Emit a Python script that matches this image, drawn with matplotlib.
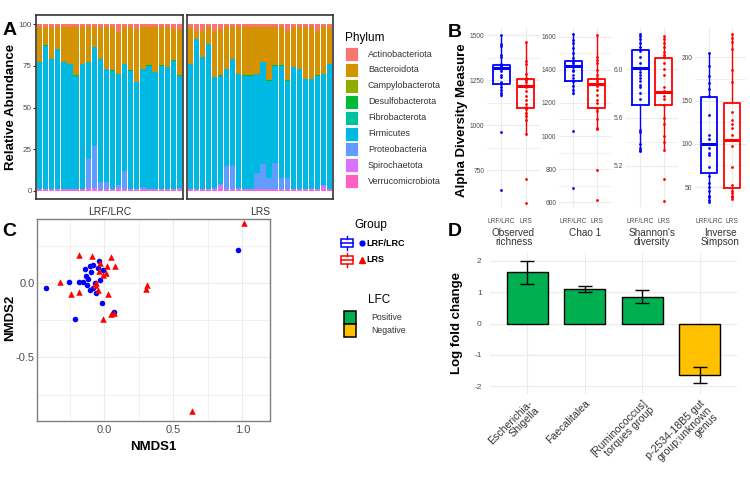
import numpy as np
import matplotlib
matplotlib.use("Agg")
import matplotlib.pyplot as plt
from matplotlib.patches import Rectangle

plt.rcParams["font.family"] = ["Liberation Sans", "DejaVu Sans"]

W, H = 750, 478

# ---------------- Panel A data (relative abundance, %) ----------------
PHYLA = ["Actinobacteriota", "Bacteroidota", "Campylobacterota", "Desulfobacterota",
         "Fibrobacterota", "Firmicutes", "Proteobacteria", "Spirochaetota",
         "Verrucomicrobiota"]
PHYLA_COLORS = ["#F8766D", "#D39200", "#93AA00", "#00BA38", "#00C19F",
                "#00B9E3", "#619CFF", "#DB72FB", "#FF61C3"]

# LRF/LRC (24 samples)
actino_L = [1.5, 1.5, 1.5, 1.5, 1.5, 1.5, 1.5, 1.5, 1.5, 1.5, 1.5, 1.5,
            1.5, 5.0, 1.5, 1.5, 3.0, 1.5, 1.5, 1.5, 1.5, 1.5, 3.0, 3.0]
bact_L = [21.2, 11.2, 19.2, 13.2, 21.2, 22.2, 29.2, 22.2, 21.2, 12.2, 19.2, 25.2,
          26.2, 24.7, 22.2, 26.2, 31.7, 25.2, 23.2, 27.2, 23.2, 24.2, 18.7, 27.7]
firm_L = [75.6, 85.6, 77.6, 83.6, 75.6, 74.6, 67.6, 74.6, 58.1, 59.1, 73.6, 67.6,
          70.6, 66.6, 64.1, 70.6, 63.6, 70.6, 73.6, 69.6, 73.6, 72.6, 76.6, 67.1]
proteo_L = [0.5, 0.5, 0.5, 0.5, 0.5, 0.5, 0.5, 0.5, 17.0, 25.0, 4.5, 4.5,
            0.5, 1.5, 11.0, 0.5, 0.5, 1.5, 0.5, 0.5, 0.5, 0.5, 0.5, 1.0]
spiro_L = [0.5, 0.5, 0.5, 0.5, 0.5, 0.5, 0.5, 0.5, 1.5, 1.5, 0.5, 0.5,
           0.5, 1.5, 0.5, 0.5, 0.5, 0.5, 0.5, 0.5, 0.5, 0.5, 0.5, 0.5]

# LRS (24 samples)
actino_R = [1.5, 4.0, 4.0, 1.5, 4.0, 3.0, 1.5, 2.0, 1.5, 1.5, 1.5, 1.5,
            1.5, 1.5, 1.5, 1.5, 4.0, 1.5, 1.5, 1.5, 1.5, 4.0, 1.5, 1.5]
bact_R = [22.2, 4.7, 15.7, 10.2, 27.7, 27.7, 25.2, 18.7, 28.2, 29.2, 29.2, 28.2,
          21.2, 32.2, 23.2, 23.2, 29.7, 24.2, 25.2, 31.2, 31.2, 26.7, 28.2, 22.2]
firm_R = [74.6, 89.8, 78.8, 86.6, 66.1, 64.6, 58.1, 64.1, 68.1, 67.6, 67.6, 59.1,
          61.1, 58.1, 58.1, 67.1, 58.1, 72.6, 71.6, 65.6, 65.1, 67.6, 66.6, 74.6]
proteo_R = [0.5, 0.3, 0.3, 0.5, 1.0, 1.0, 14.0, 14.0, 1.0, 0.5, 0.5, 10.0,
            15.0, 7.0, 16.0, 7.0, 7.0, 0.5, 0.5, 0.5, 0.5, 0.5, 0.5, 0.5]
spiro_R = [0.5, 0.5, 0.5, 0.5, 0.5, 3.0, 0.5, 0.5, 0.5, 0.5, 0.5, 0.5,
           0.5, 0.5, 0.5, 0.5, 0.5, 0.5, 0.5, 0.5, 1.0, 0.5, 2.5, 0.5]
minor_share = 0.1   # Campylo-, Desulfo-, Fibrobacterota, each sample
verru_share = 0.4

# ---------------- Panel B data (alpha diversity) ----------------
B_TITLES = ["Observed\nrichness", "Chao 1", "Shannon's\ndiversity", "Inverse\nSimpson"]
B_YLIM = [(545, 1540), (572, 1652), (4.86, 6.34), (27, 234)]
B_TICKS = [[750, 1000, 1250, 1500], [600, 800, 1000, 1200, 1400, 1600],
           [5.2, 5.6, 6.0], [50, 100, 150, 200]]
B_TICKLABELS = [["750", "1000", "1250", "1500"],
                ["600", "800", "1000", "1200", "1400", "1600"],
                ["5.2", "5.6", "6.0"], ["50", "100", "150", "200"]]
# box stats: (whislo, q1, med, q3, whishi) for LRF/LRC and LRS
box_obs = [(1163, 1230, 1315, 1332, 1500), (950, 1098, 1215, 1258, 1460)]
box_chao = [(1256, 1330, 1420, 1454, 1615), (1040, 1170, 1316, 1346, 1610)]
box_shan = [(5.32, 5.70, 6.01, 6.16, 6.29), (5.33, 5.70, 5.81, 6.09, 6.27)]
box_invs = [(33, 66, 100, 154, 205), (36, 49, 104, 147, 227)]

obs_LRF = [1500, 1450, 1440, 1390, 1380, 1340, 1335, 1330, 1325, 1322, 1318, 1315,
           1310, 1300, 1280, 1270, 1240, 1230, 1210, 1195, 1180, 1165, 960, 640]
obs_LRS = [1460, 1355, 1340, 1285, 1260, 1255, 1250, 1240, 1225, 1215, 1210, 1190,
           1160, 1140, 1120, 1100, 1090, 1070, 1050, 1030, 950, 700, 565]
chao_LRF = [1615, 1580, 1560, 1530, 1500, 1470, 1455, 1450, 1440, 1430, 1420, 1415,
            1400, 1390, 1370, 1350, 1335, 1330, 1300, 1280, 1260, 1030, 686]
chao_LRS = [1610, 1480, 1460, 1440, 1400, 1370, 1350, 1345, 1330, 1320, 1316, 1300,
            1280, 1250, 1220, 1200, 1170, 1150, 1100, 1050, 1040, 796, 614]
shan_LRF = [6.29, 6.27, 6.25, 6.22, 6.18, 6.15, 6.10, 6.05, 6.00, 5.98, 5.95, 5.93,
            5.90, 5.87, 5.85, 5.80, 5.75, 5.50, 5.48, 5.38, 5.35, 5.33, 5.32]
shan_LRS = [6.27, 6.25, 6.22, 6.18, 6.14, 6.12, 6.10, 6.05, 6.00, 5.95, 5.85, 5.82,
            5.81, 5.78, 5.75, 5.70, 5.60, 5.55, 5.45, 5.40, 5.33, 5.09, 4.91]
invs_LRF = [205, 190, 178, 170, 163, 155, 133, 110, 106, 100, 95, 90, 87, 73, 63,
            55, 50, 45, 40, 38, 35, 33]
invs_LRS = [227, 222, 218, 210, 185, 172, 137, 128, 123, 118, 110, 104, 98, 73, 52,
            46, 43, 40, 38, 36]

# ---------------- Panel C data (NMDS) ----------------
nmds_LRF_x = [-0.418, -0.256, -0.184, -0.213, -0.140, -0.104, -0.080, -0.039, -0.092,
              -0.043, -0.012, -0.152, -0.123, -0.116, -0.104, -0.080, -0.056, -0.031,
              -0.014, 0.072, 0.971, -0.128, -0.068]
nmds_LRF_y = [-0.034, 0.011, 0.007, -0.241, 0.097, 0.113, 0.119, 0.146, 0.074,
              0.101, 0.086, 0.011, -0.011, 0.027, -0.045, -0.034, -0.068, 0.023,
              -0.135, -0.191, 0.221, 0.045, 0.000]
nmds_LRS_x = [-0.316, -0.181, -0.085, 0.046, 0.077, 0.024, -0.031, -0.039, 0.012,
              -0.007, -0.056, -0.068, -0.043, -0.181, -0.237, 0.029, 0.312, 0.300,
              -0.007, 0.046, 0.072, 0.638, 1.014]
nmds_LRS_y = [0.011, 0.187, 0.180, 0.173, 0.113, 0.113, 0.135, 0.079, 0.068,
              0.056, 0.000, -0.011, -0.045, -0.061, -0.074, -0.074, -0.011, -0.041,
              -0.241, -0.207, -0.198, -0.860, 0.405]

# ---------------- Panel D data (log fold change) ----------------
genera = ["Escherichia-\nShigella", "Faecalitalea", "[Ruminococcus]\ntorques group",
          "p-2534-18B5 gut\ngroup;unknown\ngenus"]
lfc = [1.65, 1.10, 0.85, -1.65]
lfc_lo = [1.25, 1.00, 0.65, -1.90]
lfc_hi = [2.00, 1.20, 1.07, -1.40]

BLUE, RED = "#0000FF", "#FF0000"
GREEN, YELLOW = "#00B050", "#FFC000"
GRID = "#EBEBEB"
TICK_C = "#4D4D4D"


def ax_px(fig, x0, y0, x1, y1):
    return fig.add_axes([x0 / W, 1 - y1 / H, (x1 - x0) / W, (y1 - y0) / H])


fig = plt.figure(figsize=(W / 100, H / 100), dpi=100)
fig.patch.set_facecolor("white")

# overlay in pixel coordinates for legends and panel letters
ov = fig.add_axes([0, 0, 1, 1], zorder=10)
ov.set_xlim(0, W)
ov.set_ylim(H, 0)
ov.axis("off")

# ================= A =================
stacks_L = [actino_L, bact_L, [minor_share] * 24, [minor_share] * 24, [minor_share] * 24,
            firm_L, proteo_L, spiro_L, [verru_share] * 24]
stacks_R = [actino_R, bact_R, [minor_share] * 24, [minor_share] * 24, [minor_share] * 24,
            firm_R, proteo_R, spiro_R, [verru_share] * 24]
for k, (stacks, box, lab) in enumerate([(stacks_L, (36, 15, 183, 199), "LRF/LRC"),
                                        (stacks_R, (187, 15, 333, 199), "LRS")]):
    ax = ax_px(fig, *box)
    n = len(stacks[0])
    x = np.arange(n)
    bottom = np.zeros(n)
    # ggplot stacks the first level on top: draw from the last phylum upward
    for vals, col in zip(stacks[::-1], PHYLA_COLORS[::-1]):
        v = np.array(vals)
        ax.bar(x, v, bottom=bottom, width=0.86, color=col, linewidth=0)
        bottom += v
    ax.set_xlim(-0.6, n - 0.4)
    ax.set_ylim(-4.8, 105.4)
    ax.set_xticks([])
    for s in ax.spines.values():
        s.set_color("#333333")
        s.set_linewidth(1.2)
    if k == 0:
        ax.set_yticks([0, 25, 50, 75, 100])
        ax.tick_params(axis="y", labelsize=5.8, labelcolor=TICK_C, length=2,
                       color="#333333", pad=1)
    else:
        ax.set_yticks([])
    ax.text(0.5, -0.045, lab, transform=ax.transAxes, ha="center", va="top",
            fontsize=7.5, color="#333333")
fig.text(11 / W, 1 - 107 / H, "Relative Abundance", rotation=90, fontsize=9.5,
         fontweight="bold", ha="center", va="center")

ov.text(345, 38, "Phylum", fontsize=8.5, va="center", ha="left")
for i, (name, col) in enumerate(zip(PHYLA, PHYLA_COLORS)):
    y0 = 47 + i * 15.9
    ov.add_patch(Rectangle((345, y0), 13, 14, facecolor=col, edgecolor="white", lw=0.6))
    ov.text(368, y0 + 7, name, fontsize=6.5, va="center", ha="left", color="#333333")

# ================= B =================
b_boxes = [(487, 28, 540, 207), (559, 28, 611, 207), (626, 28, 678, 207), (695, 28, 746, 207)]
b_stats = [box_obs, box_chao, box_shan, box_invs]
b_pts = [(obs_LRF, obs_LRS), (chao_LRF, chao_LRS), (shan_LRF, shan_LRS), (invs_LRF, invs_LRS)]
for i in range(4):
    ax = ax_px(fig, *b_boxes[i])
    mids = [(a + b) / 2 for a, b in zip(B_TICKS[i][:-1], B_TICKS[i][1:])]
    for t in B_TICKS[i]:
        ax.axhline(t, color=GRID, lw=0.8, zorder=0)
    for t in mids:
        ax.axhline(t, color=GRID, lw=0.5, zorder=0)
    for xx in (1, 2):
        ax.axvline(xx, color=GRID, lw=0.8, zorder=0)
    for j, col in enumerate([BLUE, RED]):
        wl, q1, med, q3, wh = b_stats[i][j]
        st = [dict(whislo=wl, q1=q1, med=med, q3=q3, whishi=wh, fliers=[])]
        ax.bxp(st, positions=[j + 1], widths=0.72, showcaps=False, manage_ticks=False,
               boxprops=dict(color=col, lw=1.3),
               whiskerprops=dict(color=col, lw=1.0),
               medianprops=dict(color=col, lw=2.2), zorder=2)
        pts = b_pts[i][j]
        ax.scatter([j + 1] * len(pts), pts, s=4, color=col, zorder=3, linewidths=0)
    ax.set_xlim(0.4, 2.6)
    ax.set_ylim(*B_YLIM[i])
    ax.set_yticks(B_TICKS[i])
    ax.set_yticklabels(B_TICKLABELS[i])
    ax.set_xticks([1, 2])
    ax.set_xticklabels(["LRF/LRC", "LRS"])
    ax.tick_params(labelsize=4.8, labelcolor=TICK_C, length=0, pad=2)
    ax.tick_params(axis="x", pad=8)
    for s in ax.spines.values():
        s.set_visible(False)
    ax.text(0.5, -0.115, B_TITLES[i], transform=ax.transAxes, ha="center", va="top",
            fontsize=7.2, color="#333333", linespacing=0.95)
fig.text(462 / W, 1 - 120 / H, "Alpha Diversity Measure", rotation=90, fontsize=9.5,
         fontweight="bold", ha="center", va="center")

# ================= C =================
ax = ax_px(fig, 37, 219, 270, 421)
ax.set_xlim(-0.486, 1.2)
ax.set_ylim(-0.928, 0.432)
ax.set_xticks([0.0, 0.5, 1.0])
ax.set_xticklabels(["0.0", "0.5", "1.0"])
ax.set_yticks([-0.5, 0.0])
ax.set_yticklabels(["-0.5", "0.0"])
ax.set_xticks([-0.25, 0.25, 0.75], minor=True)
ax.set_yticks([-0.75, -0.25, 0.25], minor=True)
ax.grid(True, which="major", color=GRID, lw=0.8)
ax.grid(True, which="minor", color=GRID, lw=0.5)
ax.set_axisbelow(True)
ax.tick_params(which="both", length=0)
ax.tick_params(labelsize=8, labelcolor=TICK_C, pad=3)
ax.tick_params(axis="y", pad=1.5)
for s in ax.spines.values():
    s.set_color("#7F7F7F")
    s.set_linewidth(1.0)
ax.scatter(nmds_LRF_x, nmds_LRF_y, s=16, marker="o", color=BLUE, linewidths=0, zorder=3)
ax.scatter(nmds_LRS_x, nmds_LRS_y, s=22, marker="^", color=RED, linewidths=0, zorder=3)
ax.set_xlabel("NMDS1", fontsize=9.5, fontweight="bold", labelpad=4)
fig.text(10 / W, 1 - 318 / H, "NMDS2", rotation=90, fontsize=9.5,
         fontweight="bold", ha="center", va="center")

# Group legend
ov.text(354, 225, "Group", fontsize=8.5, va="center", ha="left")
for yc, col, mk, lab in [(243, BLUE, "o", "LRF/LRC"), (260, RED, "^", "LRS")]:
    ov.add_patch(Rectangle((341, yc - 4), 12, 8, facecolor="none", edgecolor=col, lw=1.1))
    ov.plot([341, 353], [yc, yc], color=col, lw=1.1)
    ov.plot([347, 347], [yc - 7, yc - 4], color=col, lw=1.0)
    ov.plot([347, 347], [yc + 4, yc + 7], color=col, lw=1.0)
    ov.plot([362], [yc], marker=mk, color=col, ms=3.5 if mk == "o" else 4, lw=0)
    ov.text(366, yc, lab, fontsize=6.5, fontweight="bold", va="center", ha="left")

# LFC legend
ov.text(368, 300, "LFC", fontsize=8.5, va="center", ha="left")
for yc, col, lab in [(317, GREEN, "Positive"), (330.5, YELLOW, "Negative")]:
    ov.add_patch(Rectangle((344, yc - 6.5), 12, 13, facecolor=col, edgecolor="black", lw=1.1))
    ov.text(371, yc, lab, fontsize=6.3, va="center", ha="left", color="#333333")

# ================= D =================
ax = ax_px(fig, 490, 253, 737, 394)
xd = np.arange(1, len(lfc) + 1)
cols = [GREEN if v > 0 else YELLOW for v in lfc]
ax.bar(xd, lfc, width=0.72, color=cols, edgecolor="black", lw=1.0, zorder=2)
err = [np.array(lfc) - np.array(lfc_lo), np.array(lfc_hi) - np.array(lfc)]
ax.errorbar(xd, lfc, yerr=err, fmt="none", ecolor="black", elinewidth=1.0,
            capsize=5, capthick=1.0, zorder=3)
ax.set_xlim(0.35, 4.65)
ax.set_ylim(-2.25, 2.25)
ax.set_yticks([-2, -1, 0, 1, 2])
ax.set_yticklabels(["-2", "-1", "0", "1", "2"])
ax.set_xticks(xd)
ax.set_xticklabels(genera, rotation=45, ha="right", rotation_mode="anchor",
                   fontsize=7.6, color="#333333", linespacing=0.95)
ax.tick_params(length=0)
ax.tick_params(axis="y", labelsize=6, labelcolor=TICK_C, pad=6)
ax.tick_params(axis="x", pad=3)
ax.grid(True, color=GRID, lw=0.8)
ax.set_axisbelow(True)
for s in ax.spines.values():
    s.set_visible(False)
ax.set_ylabel("Log fold change", fontsize=9.5, fontweight="bold", labelpad=8)

# panel letters
for lab, (px, py) in {"A": (10, 30), "B": (455, 32), "C": (9, 231), "D": (455, 231)}.items():
    ov.text(px, py, lab, fontsize=14, fontweight="bold", ha="center", va="center")

fig.savefig("out.png", dpi=100)
